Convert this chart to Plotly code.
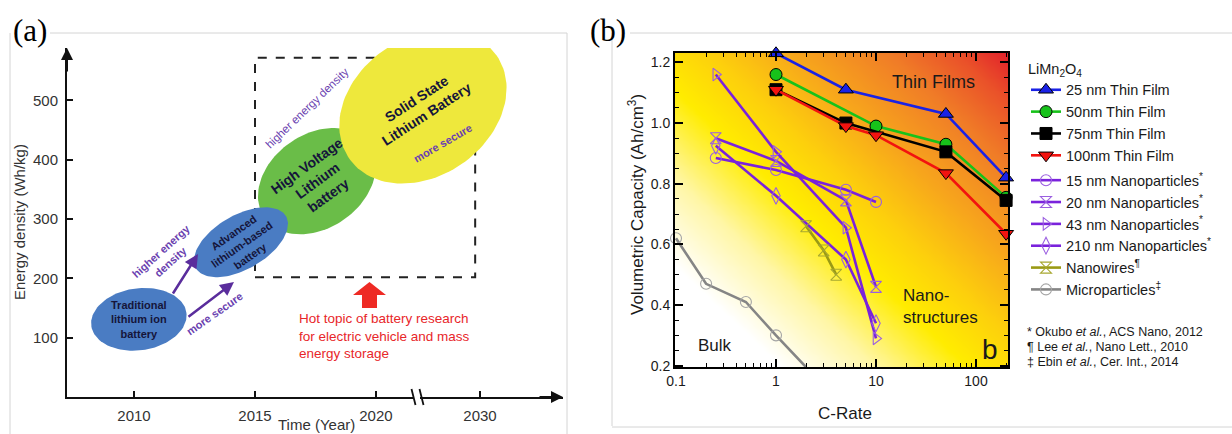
import numpy as np
import plotly.graph_objects as go

W, H = 1232, 434


def pp(x, y):
    """figure pixel -> paper coordinates (decoration placement only)"""
    return x / W, 1 - y / H


# ---------------- panel (a) data ----------------
battery_labels = ["Traditional<br>lithium ion<br>battery",
                  "Advanced<br>lithium-based<br>battery",
                  "High Voltage<br>Lithium<br>battery",
                  "Solid State<br>Lithium Battery"]
battery_year = [2010.2, 2014.42, 2017.56, 2021.94]
battery_density = [131, 261, 364, 489]
a_year_ticklabels = ["2010", "2015", "2020", "2030"]
a_year_tickpos = [2010, 2015, 2020, 2024.3]
a_density_ticks = [100, 200, 300, 400, 500]
hot_box_year = [2015.0, 2024.1]
hot_box_density = [202, 572]

# ---------------- panel (b) data ----------------
tf25_c = [1, 5, 50, 200]
tf25_v = [1.23, 1.11, 1.03, 0.82]
tf50_c = [1, 10, 50, 200]
tf50_v = [1.16, 0.99, 0.93, 0.755]
tf75_c = [1, 5, 50, 200]
tf75_v = [1.11, 1.00, 0.905, 0.745]
tf100_c = [1, 5, 10, 50, 200]
tf100_v = [1.11, 0.99, 0.96, 0.835, 0.635]
np15_c = [0.25, 1, 5, 10]
np15_v = [0.885, 0.845, 0.78, 0.74]
np20_c = [0.25, 1, 5, 10]
np20_v = [0.95, 0.875, 0.745, 0.46]
np43_c = [0.25, 1, 5, 10]
np43_v = [1.16, 0.905, 0.655, 0.29]
np210_c = [0.25, 1, 5, 10]
np210_v = [0.925, 0.76, 0.55, 0.34]
nw_c = [2, 3, 4]
nw_v = [0.66, 0.58, 0.50]
mp_c = [0.1, 0.2, 0.5, 1, 2]
mp_v = [0.62, 0.47, 0.41, 0.30, 0.195]
b_c_ticks = [0.1, 1, 10, 100]
b_c_ticklabels = ["0.1", "1", "10", "100"]
b_v_ticks = [0.2, 0.4, 0.6, 0.8, 1.0, 1.2]
b_v_ticklabels = ["0.2", "0.4", "0.6", "0.8", "1.0", "1.2"]
references = ["* Okubo <i>et al.</i>, ACS Nano, 2012",
              "¶ Lee <i>et al.</i>, Nano Lett., 2010",
              "‡ Ebin <i>et al.</i>, Cer. Int., 2014"]

# ---------------- layout geometry ----------------
AX_PX = (67, 563)      # panel a x-axis pixel extent
AY_PX = (397, 48)      # panel a y-axis pixel extent (bottom, top)
a_xrange = [2007.23, 2027.73]
a_yrange = [0, 588.5]
BX_PX = (675, 1008)
BY_PX = (367, 53)
b_xrange = [-1.01, 2.32]
b_yrange = [0.1957, 1.231]

fig = go.Figure()


def note(x, y, text, size, color="#1a1a1a", angle=0, xanchor="center", family=None, align="center"):
    X, Y = pp(x, y)
    f = dict(size=size, color=color)
    if family:
        f["family"] = family
    fig.add_annotation(x=X, y=Y, xref="paper", yref="paper", text=text, showarrow=False,
                       textangle=angle, xanchor=xanchor, yanchor="middle", align=align,
                       font=f)


# ---------- panel (a): ellipses ----------
ell_style = [  # semi-axis a, b (px), angle deg, colour
    (48, 31, 8, "#4a7cc3"),
    (52, 27, 30, "#4a7cc3"),
    (64, 47, 35, "#6abd48"),
    (90, 69, 35, "#eee83c"),
]
sx = (AX_PX[1] - AX_PX[0]) / (a_xrange[1] - a_xrange[0])
sy = (AY_PX[0] - AY_PX[1]) / (a_yrange[1] - a_yrange[0])
t = np.linspace(0, 2 * np.pi, 120)
for i in [2, 3, 0, 1]:
    a, b, ang, col = ell_style[i]
    th = np.radians(ang)
    dx = a * np.cos(th) * np.cos(t) - b * np.sin(th) * np.sin(t)
    dy = a * np.sin(th) * np.cos(t) + b * np.cos(th) * np.sin(t)
    fig.add_trace(go.Scatter(x=battery_year[i] + dx / sx, y=battery_density[i] + dy / sy,
                             mode="lines", fill="toself", fillcolor=col,
                             line=dict(width=0, color=col), showlegend=False,
                             hoverinfo="skip", xaxis="x", yaxis="y"))

ell_text_style = [  # textangle, font size, dx px, dy px
    (0, 11, 0, 0),
    (-35, 11, 1, 2),
    (-36, 14, 1, -1),
    (-33, 14, -1, -1),
]
for i, lab in enumerate(battery_labels):
    ang, fs, ox, oy = ell_text_style[i]
    fig.add_annotation(x=battery_year[i] + ox / sx, y=battery_density[i] - oy / sy,
                       xref="x", yref="y", text=f"<b>{lab}</b>", showarrow=False,
                       xanchor="center", yanchor="middle",
                       textangle=ang, font=dict(size=fs, color="#15153a"))

# hot-topic dashed box
fig.add_shape(type="rect", xref="x", yref="y", x0=hot_box_year[0], x1=hot_box_year[1],
              y0=hot_box_density[0], y1=hot_box_density[1],
              line=dict(color="#222", width=2, dash="dash"), layer="below")

purple = "#6a3fb0"
# purple arrows
for (x0, y0, x1, y1) in [(172, 295, 198, 254), (187, 318, 234, 282)]:
    X, Y = pp(x1, y1)
    fig.add_annotation(x=X, y=Y, xref="paper", yref="paper", ax=x0 - x1, ay=y0 - y1,
                       text="", showarrow=True, arrowhead=2, arrowsize=1.1,
                       arrowwidth=2.5, arrowcolor="#5a2d9c")

note(166, 256, "<b>higher energy<br>density</b>", 11, purple, -42)
note(214, 314, "<b>more secure</b>", 11, purple, -35)
note(307, 108, "higher energy density", 11.5, purple, -44)
note(443, 143, "<b>more secure</b>", 11, purple, -30)

# red block arrow
pts = [(362, 308), (362, 295), (353, 295), (369.5, 282), (386, 295), (377, 295), (377, 308)]
path = "M " + " L ".join(f"{pp(x, y)[0]:.5f},{pp(x, y)[1]:.5f}" for x, y in pts) + " Z"
fig.add_shape(type="path", xref="paper", yref="paper", path=path,
              fillcolor="#ee2a24", line=dict(width=0))
note(297, 336, "Hot topic of battery research<br>for electric vehicle and mass<br>energy storage",
     13.5, "#e8262a", xanchor="left", align="left")

# axis arrows and break
fig.add_annotation(x=a_xrange[1], y=0, xref="x", yref="y", ax=-25, ay=0, text="",
                   showarrow=True, arrowhead=2, arrowsize=1.2, arrowwidth=2, arrowcolor="#111")
fig.add_annotation(x=a_xrange[0], y=a_yrange[1], xref="x", yref="y", ax=0, ay=25, text="",
                   showarrow=True, arrowhead=2, arrowsize=1.2, arrowwidth=2, arrowcolor="#111")
x0, y0 = pp(414, 393)
x1, y1 = pp(420, 401)
fig.add_shape(type="rect", xref="paper", yref="paper", x0=x0, x1=x1, y0=y1, y1=y0,
              fillcolor="white", line=dict(width=0))
for xa in (411.5, 419.5):
    a0 = pp(xa, 389)
    a1 = pp(xa + 4, 405)
    fig.add_shape(type="line", xref="paper", yref="paper", x0=a0[0], y0=a0[1], x1=a1[0], y1=a1[1],
                  line=dict(color="#111", width=1.8))

# axis titles (a)
note(19, 222, "Energy density (Wh/kg)", 15, "#333", -90)
note(316, 424, "Time (Year)", 15, "#333")

# ---------- panel (b) ----------
gx = 10 ** np.linspace(-1.06, 2.37, 160)
gy = np.linspace(0.17, 1.26, 120)
U = (np.log10(gx) - b_xrange[0]) / (b_xrange[1] - b_xrange[0])
V = (gy - b_yrange[0]) / (b_yrange[1] - b_yrange[0])
Z = np.clip((U[None, :] + V[:, None]) / 2, 0, 1)
fig.add_trace(go.Heatmap(x=gx, y=gy, z=Z, zmin=0, zmax=1, showscale=False,
                         hoverinfo="skip", zsmooth="best", xaxis="x2", yaxis="y2",
                         colorscale=[[0, "#ffffff"], [0.16, "#ffffff"], [0.3, "#fff6a6"],
                                     [0.44, "#ffec00"], [0.55, "#fdd00c"], [0.68, "#f7a51c"],
                                     [0.82, "#f07c27"], [0.92, "#ea5229"], [1, "#e2212b"]]))

PURP = "#7a22dc"
PURP_M = "#9b5fe0"
series = [
    ("25 nm Thin Film", tf25_c, tf25_v, "#1a22e6", "triangle-up", 13, "#1a22e6", "tf"),
    ("50nm Thin Film", tf50_c, tf50_v, "#17c21a", "circle", 12, "#17c21a", "tf"),
    ("75nm Thin Film", tf75_c, tf75_v, "#000000", "square", 12, "#000000", "tf"),
    ("100nm Thin Film", tf100_c, tf100_v, "#f2130f", "triangle-down", 13, "#f2130f", "tf"),
    ("15 nm Nanoparticles<sup>*</sup>", np15_c, np15_v, PURP, "circle-open", 11, PURP_M, "np"),
    ("20 nm Nanoparticles<sup>*</sup>", np20_c, np20_v, PURP, "hourglass-open", 11, PURP_M, "np"),
    ("43 nm Nanoparticles<sup>*</sup>", np43_c, np43_v, PURP, "triangle-right-open", 11, PURP_M, "np"),
    ("210 nm Nanoparticles<sup>*</sup>", np210_c, np210_v, PURP, "diamond-tall-open", 12, PURP_M, "np"),
    ("Nanowires<sup>¶</sup>", nw_c, nw_v, "#9a9a14", "hourglass-open", 11, "#a8a830", "np"),
    ("Microparticles<sup>‡</sup>", mp_c, mp_v, "#858585", "circle-open", 11, "#a5a5a5", "np"),
]
# draw thin films last so they sit on top
order = list(range(4, 10)) + list(range(4))
traces = {}
for i, (name, cx, cy, lc, sym, ms, mc, grp) in enumerate(series):
    filled = not sym.endswith("open")
    traces[i] = go.Scatter(
        x=cx, y=cy, name=name, mode="lines+markers", legendgroup=grp, legendrank=i + 1,
        line=dict(color=lc, width=2.6),
        marker=dict(symbol=sym, size=ms, color=mc,
                    line=dict(color="black" if filled else mc, width=1 if filled else 1.1)),
        cliponaxis=False, xaxis="x2", yaxis="y2")
for i in order:
    fig.add_trace(traces[i])

note(933, 82, "Thin Films", 18)
note(901, 306, "Nano-<br>structures", 17, xanchor="left", align="left")
note(715, 345, "Bulk", 17)
note(990, 349, "b", 28)
note(636, 205, "Volumetric Capacity (Ah/cm<sup>3</sup>)", 17, angle=-90)
note(845, 413, "C-Rate", 17)
for k, ref in enumerate(references):
    note(1025, 332 + 15 * k, ref, 12.5, xanchor="left", align="left")

# panel labels and frames
note(30, 30, "(a)", 31, "black", family="Liberation Serif, Times New Roman, serif")
note(608, 30, "(b)", 31, "black", family="Liberation Serif, Times New Roman, serif")
for (x0, y0, x1, y1) in [(50, 33, 567, 33), (10, 33, 10, 434), (567, 33, 567, 434),
                         (630, 33, 1232, 33), (612, 33, 612, 426), (612, 427, 1232, 427)]:
    a0, a1 = pp(x0, y0), pp(x1, y1)
    fig.add_shape(type="line", xref="paper", yref="paper", x0=a0[0], y0=a0[1], x1=a1[0], y1=a1[1],
                  line=dict(color="#d4d4d4", width=1), layer="below")

fig.update_layout(
    template="none",
    width=W, height=H, margin=dict(l=0, r=0, t=0, b=0, pad=0, autoexpand=False),
    paper_bgcolor="white", plot_bgcolor="rgba(0,0,0,0)",
    font=dict(family="Liberation Sans, Arial, sans-serif", color="#1a1a1a"),
    xaxis=dict(domain=[AX_PX[0] / W, AX_PX[1] / W], range=a_xrange, anchor="y",
               showline=True, linecolor="#111", linewidth=2, ticks="inside", ticklen=6,
               tickwidth=2, tickcolor="#111", tickvals=a_year_tickpos,
               ticktext=a_year_ticklabels, showgrid=False, zeroline=False,
               tickfont=dict(size=15, color="#333"), ticklabelstandoff=4, automargin=False),
    yaxis=dict(domain=[1 - AY_PX[0] / H, 1 - AY_PX[1] / H], range=a_yrange, anchor="x",
               showline=True, linecolor="#111", linewidth=2, ticks="inside", ticklen=6,
               tickwidth=2, tickcolor="#111", tickvals=a_density_ticks,
               showgrid=False, zeroline=False, tickfont=dict(size=15, color="#333"),
               ticklabelstandoff=4, automargin=False),
    xaxis2=dict(type="log", domain=[BX_PX[0] / W, BX_PX[1] / W], range=b_xrange, anchor="y2",
                showline=True, linecolor="black", linewidth=2, mirror="allticks",
                ticks="inside", ticklen=8, tickwidth=1.5, tickcolor="black",
                tickvals=b_c_ticks, ticktext=b_c_ticklabels, showgrid=False, zeroline=False,
                minor=dict(ticks="inside", ticklen=4, tickwidth=1.2, tickcolor="black",
                           dtick="D1", showgrid=False),
                tickfont=dict(size=14, color="#1a1a1a"), automargin=False),
    yaxis2=dict(domain=[1 - BY_PX[0] / H, 1 - BY_PX[1] / H], range=b_yrange, anchor="x2",
                showline=True, linecolor="black", linewidth=2, mirror="allticks",
                ticks="inside", ticklen=8, tickwidth=1.5, tickcolor="black",
                tickvals=b_v_ticks, ticktext=b_v_ticklabels, showgrid=False, zeroline=False,
                minor=dict(ticks="inside", ticklen=4, tickwidth=1.2, tickcolor="black",
                           dtick=0.05, showgrid=False),
                tickfont=dict(size=14, color="#1a1a1a"), automargin=False),
    legend=dict(x=1026 / W, y=1 - 55 / H, xanchor="left", yanchor="top",
                bgcolor="rgba(0,0,0,0)", font=dict(size=14.5, color="#1a1a1a"),
                title=dict(text="LiMn<sub>2</sub>O<sub>4</sub>", font=dict(size=14.5)),
                itemwidth=30, tracegroupgap=3, traceorder="grouped"),
    showlegend=True,
)

fig.write_html("out.html")
